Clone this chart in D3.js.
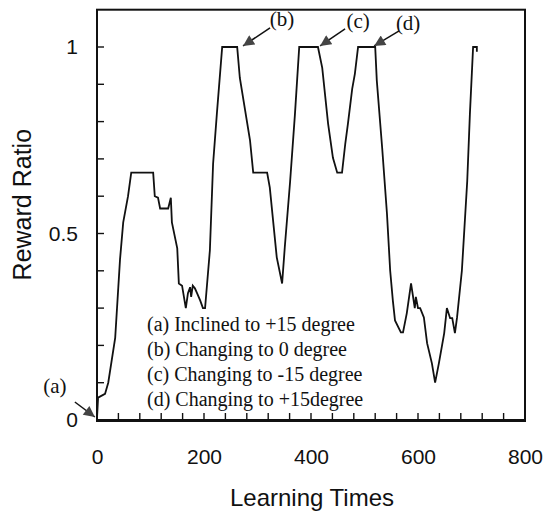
<!DOCTYPE html>
<html>
<head>
<meta charset="utf-8">
<script src="https://cdn.jsdelivr.net/npm/d3@7"></script>
<style>
    body { margin: 0; background: #fff; }
    .tickLabel { font-family: 'Liberation Sans', Arial, sans-serif; font-size: 21px; fill: #111; }
    .axisTitle { font-family: 'Liberation Sans', Arial, sans-serif; font-size: 24px; fill: #111; }
    .serifText { font-family: 'Liberation Serif', 'Times New Roman', serif; fill: #111; }
</style>
</head>
<body>
<div id="chart"></div>
<script>
// Data
var learningTimes = [0, 2, 15, 21, 34, 43, 49, 58, 64, 105, 108, 114, 118, 133, 138, 140, 150, 153, 159, 166,
    170, 174, 176, 179, 183, 187, 193, 198, 202, 211, 217, 224, 234, 262, 267, 286, 292, 318, 323, 336,
    346, 351, 361, 370, 378, 413, 421, 432, 441, 449, 458, 464, 469, 477, 482, 488, 520, 523, 533, 542,
    548, 553, 557, 568, 572, 579, 587, 594, 596, 600, 604, 611, 617, 626, 632, 639, 649, 654, 660, 664,
    669, 673, 682, 692, 697, 703, 710, 710];
var rewardRatio = [0.005, 0.06, 0.07, 0.10, 0.22, 0.43, 0.53, 0.60, 0.663, 0.663, 0.60, 0.596, 0.567, 0.567, 0.596, 0.53, 0.46, 0.366, 0.36, 0.30,
    0.34, 0.356, 0.33, 0.36, 0.353, 0.34, 0.32, 0.30, 0.30, 0.455, 0.687, 0.82, 1.0, 1.0, 0.917, 0.75, 0.663, 0.663, 0.623, 0.436,
    0.366, 0.463, 0.64, 0.82, 1.0, 1.0, 0.944, 0.794, 0.703, 0.663, 0.663, 0.74, 0.794, 0.888, 0.928, 1.0, 1.0, 0.91, 0.73, 0.553,
    0.40, 0.32, 0.267, 0.235, 0.235, 0.286, 0.366, 0.30, 0.33, 0.30, 0.30, 0.275, 0.206, 0.152, 0.10, 0.152, 0.233, 0.30, 0.273, 0.273,
    0.233, 0.275, 0.40, 0.64, 0.82, 1.0, 1.0, 0.987];

var xTickLabels = [0, 200, 400, 600, 800];
var yTickLabels = [0, 0.5, 1];
var xMinorTicks = d3.range(40, 800, 40);
var yMinorTicks = d3.range(1, 11).map((i) => i / 10);

// Annotation arrows: label and the point the arrow tip touches
var annotLabels = ['(a)', '(b)', '(c)', '(d)'];
var annotTipX = [-4, 273, 417, 518];
var annotTipY = [0.008, 1.003, 1.003, 1.003];

var legendLines = [
    '(a) Inclined to +15 degree',
    '(b) Changing to 0 degree',
    '(c) Changing to -15 degree',
    '(d) Changing to +15degree'
];

// Set up an svg area
var svgWidth = 544;
var svgHeight = 513;

var margin = {
    top: 9.7,
    right: 19,
    bottom: 93,
    left: 97
};

var chartWidth = svgWidth - margin.left - margin.right;
var chartHeight = svgHeight - margin.top - margin.bottom;

var svg = d3.select('#chart')
    .append('svg')
    .attr('width', svgWidth)
    .attr('height', svgHeight);

var chartGroup = svg.append('g')
    .attr('transform', `translate(${margin.left}, ${margin.top})`);

// Scales
var xLinearScale = d3.scaleLinear()
    .domain([0, 800])
    .range([0, chartWidth]);

var yLinearScale = d3.scaleLinear()
    .domain([0, 1.1])
    .range([chartHeight, 0]);

// Minor ticks, pointing inwards
chartGroup.selectAll('.xMinor')
    .data(xMinorTicks)
    .enter()
    .append('line')
    .classed('xMinor', true)
    .attr('x1', (d) => xLinearScale(d))
    .attr('x2', (d) => xLinearScale(d))
    .attr('y1', chartHeight)
    .attr('y2', chartHeight - 7)
    .attr('stroke', '#111')
    .attr('stroke-width', 1.4);

chartGroup.selectAll('.yMinor')
    .data(yMinorTicks)
    .enter()
    .append('line')
    .classed('yMinor', true)
    .attr('x1', 0)
    .attr('x2', 7)
    .attr('y1', (d) => yLinearScale(d))
    .attr('y2', (d) => yLinearScale(d))
    .attr('stroke', '#111')
    .attr('stroke-width', 1.4);

// Tick labels
var xLabelAxis = chartGroup.append('g')
    .attr('transform', `translate(0, ${chartHeight})`)
    .call(d3.axisBottom(xLinearScale).tickValues(xTickLabels).tickSize(0).tickPadding(29).tickFormat(d3.format('d')));
xLabelAxis.select('.domain').remove();
xLabelAxis.selectAll('text').attr('class', 'tickLabel').attr('font-family', null).attr('font-size', null);

var yLabelAxis = chartGroup.append('g')
    .call(d3.axisLeft(yLinearScale).tickValues(yTickLabels).tickSize(0).tickPadding(19).tickFormat((d) => String(d)));
yLabelAxis.select('.domain').remove();
yLabelAxis.selectAll('text').attr('class', 'tickLabel').attr('font-family', null).attr('font-size', null);

// Frame
chartGroup.append('rect')
    .attr('x', 0)
    .attr('y', 0)
    .attr('width', chartWidth)
    .attr('height', chartHeight)
    .attr('fill', 'none')
    .attr('stroke', '#111')
    .attr('stroke-width', 2);

chartGroup.append('line')
    .attr('x1', -1)
    .attr('x2', chartWidth + 1)
    .attr('y1', chartHeight + 0.5)
    .attr('y2', chartHeight + 0.5)
    .attr('stroke', '#111')
    .attr('stroke-width', 3);

// Curve
var points = learningTimes.map((t, i) => [t, rewardRatio[i]]);

var lineGen = d3.line()
    .x((d) => xLinearScale(d[0]))
    .y((d) => yLinearScale(d[1]));

chartGroup.append('path')
    .datum(points)
    .attr('d', lineGen)
    .attr('fill', 'none')
    .attr('stroke', '#111')
    .attr('stroke-width', 1.8)
    .attr('stroke-linejoin', 'miter');

// Arrowhead marker
svg.append('defs')
    .append('marker')
    .attr('id', 'arrowHead')
    .attr('viewBox', '0 0 10 10')
    .attr('refX', 10)
    .attr('refY', 5)
    .attr('markerWidth', 12)
    .attr('markerHeight', 11)
    .attr('markerUnits', 'userSpaceOnUse')
    .attr('orient', 'auto')
    .append('path')
    .attr('d', 'M0,0 L10,5 L0,10 Z')
    .attr('fill', '#444');

// Annotations (tail and label offsets in pixels from the tip)
var tailOffsets = [[-20, -15], [27, -18], [25, -17], [25, -15]];
var labelOffsets = [[-40, -24], [39, -20], [38, -18], [34, -16]];

annotLabels.forEach((label, i) => {
    var tipX = xLinearScale(annotTipX[i]);
    var tipY = yLinearScale(annotTipY[i]);

    chartGroup.append('line')
        .attr('x1', tipX + tailOffsets[i][0])
        .attr('y1', tipY + tailOffsets[i][1])
        .attr('x2', tipX)
        .attr('y2', tipY)
        .attr('stroke', '#111')
        .attr('stroke-width', 1.5)
        .attr('marker-end', 'url(#arrowHead)');

    chartGroup.append('text')
        .attr('x', tipX + labelOffsets[i][0])
        .attr('y', tipY + labelOffsets[i][1])
        .attr('text-anchor', 'middle')
        .attr('font-size', 21)
        .classed('serifText', true)
        .text(label);
});

// Legend text
chartGroup.selectAll('.legendText')
    .data(legendLines)
    .enter()
    .append('text')
    .attr('x', 50)
    .attr('y', (d, i) => 321 + i * 25)
    .attr('font-size', 20)
    .classed('serifText', true)
    .classed('legendText', true)
    .text((d) => d);

// Axis titles
chartGroup.append('text')
    .attr('x', chartWidth / 2 + 1)
    .attr('y', chartHeight + 86)
    .attr('text-anchor', 'middle')
    .classed('axisTitle', true)
    .text('Learning Times');

chartGroup.append('text')
    .attr('transform', 'rotate(-90)')
    .attr('x', 0 - 195)
    .attr('y', 0 - 66)
    .attr('text-anchor', 'middle')
    .classed('axisTitle', true)
    .style('font-size', '25px')
    .text('Reward Ratio');
</script>
</body>
</html>
